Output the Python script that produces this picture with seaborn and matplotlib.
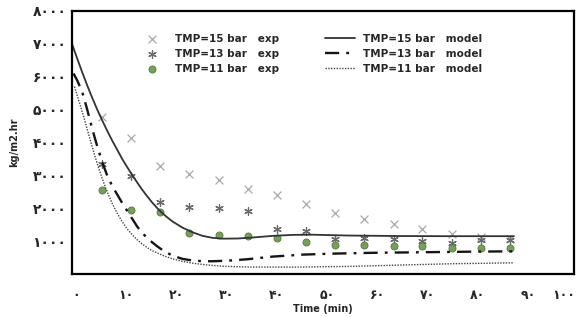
import numpy as np
import pandas as pd
import matplotlib
matplotlib.use("Agg")
import matplotlib.pyplot as plt
import matplotlib.transforms as mtransforms
import seaborn as sns

# experimental points (time in min, flux in kg/m2.hr)
t_exp = [6.0, 11.8, 17.5, 23.3, 29.3, 35.1, 40.9, 46.6, 52.4, 58.1, 64.1, 69.8, 75.6, 81.5, 87.3]
exp_15 = [4790, 4150, 3300, 3050, 2850, 2600, 2390, 2130, 1860, 1680, 1520, 1370, 1220, 1120, 1070]
exp_13 = [3350, 2970, 2180, 2030, 2010, 1930, 1380, 1320, 1070, 1080, 1050, 1000, 950, 1040, 1040]
exp_11 = [2540, 1940, 1890, 1250, 1180, 1150, 1100, 965, 895, 875, 845, 845, 795, 795, 795]

# model curves
t_m15 = [0, 1, 2, 3, 4, 5, 6, 7, 8, 9, 10, 11, 12, 13, 14, 15, 16, 17, 18, 19, 20,
         22, 24, 26, 28, 30, 33, 36, 40, 44, 48, 55, 65, 75, 88]
m_15 = [7000, 6570, 6150, 5750, 5370, 5010, 4680, 4360, 4060, 3780, 3500, 3250, 3010, 2780,
        2560, 2360, 2170, 2000, 1850, 1720, 1600, 1410, 1270, 1160, 1100, 1075, 1080, 1110,
        1160, 1190, 1195, 1170, 1155, 1150, 1150]

t_m13 = [0.3, 1, 2, 3, 4, 5, 6, 7, 8, 9, 10, 11, 12, 13, 14, 15, 16, 17, 18, 19, 20,
         22, 24, 26, 28, 31, 35, 40, 46, 52, 60, 70, 80, 88]
m_13 = [6100, 5900, 5560, 5020, 4430, 3900, 3410, 3000, 2680, 2420, 2160, 1920, 1680, 1440,
        1250, 1090, 960, 840, 730, 640, 560, 460, 410, 390, 388, 405, 450, 530, 590, 620,
        645, 662, 680, 690]

t_m11 = [0.5, 1, 2, 3, 4, 5, 6, 7, 8, 9, 10, 11, 12, 13, 14, 15, 16, 18, 20, 22, 24,
         26, 28, 30, 35, 45, 55, 65, 75, 88]
m_11 = [5700, 5450, 4950, 4420, 3880, 3370, 2910, 2500, 2150, 1850, 1590, 1370, 1190, 1040,
        910, 800, 710, 570, 460, 385, 330, 290, 260, 237, 212, 210, 230, 270, 310, 340]

x_ticks = list(range(0, 101, 10))
y_ticks = list(range(1000, 8001, 1000))

PERSIAN = str.maketrans("0123456789", "۰۱۲۳۴۵۶۷۸۹")


def fa(n):
    return str(n).translate(PERSIAN)


sns.set_style("white")
plt.rcParams['font.family'] = ['DejaVu Sans']

fig = plt.figure(figsize=(5.76, 3.17), dpi=100)
ax = fig.add_axes([72 / 576, 1 - 274 / 317, (574 - 72) / 576, (274 - 11) / 317])

df_exp = pd.DataFrame({"t": t_exp, "f15": exp_15, "f13": exp_13, "f11": exp_11})

sns.scatterplot(data=df_exp, x="t", y="f15", ax=ax, marker="x", s=32, color="#a8a8a8",
                linewidth=0.9, label="TMP=15 bar   exp")
sns.scatterplot(data=df_exp, x="t", y="f13", ax=ax, marker=(6, 2, 0), s=30, color="#6a6a6a",
                linewidth=0.9, label="TMP=13 bar   exp")
sns.scatterplot(data=df_exp, x="t", y="f11", ax=ax, marker="o", s=26, color="#76a05a",
                edgecolor="#557a3e", linewidth=0.6, label="TMP=11 bar   exp")

sns.lineplot(x=t_m15, y=m_15, ax=ax, color="#333333", linewidth=1.3, label="TMP=15 bar   model")
sns.lineplot(x=t_m13, y=m_13, ax=ax, color="#151515", linewidth=1.7,
             linestyle=(0, (6, 3, 1.2, 3)), label="TMP=13 bar   model")
sns.lineplot(x=t_m11, y=m_11, ax=ax, color="#444444", linewidth=1.0,
             linestyle=(0, (1, 1)), label="TMP=11 bar   model")

ax.set_xlim(0, 100)
ax.set_ylim(0, 8000)
ax.set_xticks(x_ticks)
ax.set_xticklabels([fa(v) for v in x_ticks], fontsize=9, fontweight="bold")
ax.set_yticks(y_ticks)
ax.set_yticklabels([fa(v) for v in y_ticks], fontsize=10, fontweight="bold")
ax.tick_params(axis="both", direction="in", length=3, color="#cccccc", width=0.6)
ax.tick_params(axis="x", pad=11)
ax.tick_params(axis="y", pad=4)

# labels sit a little right of their ticks in the reference; keep the last one inside
shift = mtransforms.ScaledTranslation(4 / 100, 0, fig.dpi_scale_trans)
xlabels = ax.get_xticklabels()
for lab in xlabels[:-1]:
    lab.set_transform(lab.get_transform() + shift)
xlabels[-1].set_horizontalalignment("right")
xlabels[-1].set_transform(xlabels[-1].get_transform()
                          + mtransforms.ScaledTranslation(1 / 100, 0, fig.dpi_scale_trans))

for s in ax.spines.values():
    s.set_linewidth(1.6)
    s.set_color("black")

ax.set_xlabel("Time (min)", fontsize=7, fontweight="bold", labelpad=1)
ax.set_ylabel("kg/m2.hr", fontsize=7, fontweight="bold", labelpad=4)
ax.yaxis.set_label_coords(-0.105, 0.5)

ax.legend(ncol=2, frameon=False, loc="upper left", bbox_to_anchor=(0.12, 0.93),
          prop={"size": 7.5, "weight": "bold"}, handlelength=2.9, handletextpad=0.8,
          columnspacing=4.4, labelspacing=0.5, borderaxespad=0)

fig.savefig("out.png", dpi=100)
